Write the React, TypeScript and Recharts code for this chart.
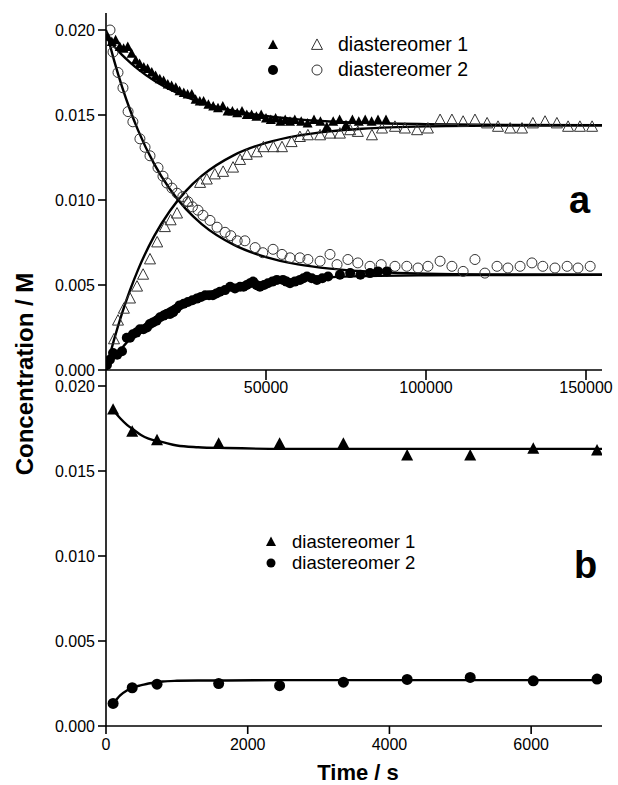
import { ComposedChart, Line, Scatter, XAxis, YAxis } from "recharts";

const font = "'Liberation Sans', Arial, sans-serif";
const ink = "#000";

// panel a: time in s, concentration in M
const d1FilledT = [500, 1800, 3000, 4300, 5500, 6800, 8000, 9300, 10500, 11800, 13000, 14300, 15500, 16800, 18000, 19300, 20500, 21800, 23000, 24300, 25500, 26800, 28000, 29300, 30500, 32000, 33500, 35000, 36500, 38000, 39500, 41000, 42500, 44000, 45500, 47000, 48500, 50000, 51500, 53000, 54500, 56000, 57500, 59000, 61000, 63000, 65000, 67000, 69000, 71000, 73000, 75000, 77000, 79000, 81000, 83000, 85000, 87500];
const d1FilledC = [0.0196, 0.0193, 0.0194, 0.019, 0.0189, 0.019, 0.0186, 0.0182, 0.018, 0.0178, 0.0177, 0.0175, 0.0173, 0.0171, 0.017, 0.0168, 0.0167, 0.0166, 0.0164, 0.0163, 0.0162, 0.0162, 0.0159, 0.0158, 0.0158, 0.0156, 0.0155, 0.0154, 0.0155, 0.0152, 0.0152, 0.0151, 0.0152, 0.015, 0.015, 0.0149, 0.015, 0.0148, 0.0147, 0.0148, 0.0146, 0.0147, 0.0146, 0.0147, 0.0146, 0.0145, 0.0147, 0.0146, 0.0143, 0.0146, 0.0147, 0.0144, 0.0147, 0.0146, 0.0147, 0.0146, 0.0147, 0.0147];

const d1OpenT = [2500, 3750, 5600, 7500, 9700, 11600, 13750, 16000, 18400, 20200, 22200, 25600, 29400, 31500, 34000, 36600, 39700, 41900, 44000, 47100, 49200, 52300, 55000, 58000, 60600, 63100, 66900, 70000, 73100, 76300, 78700, 83100, 86250, 90300, 93400, 97200, 100600, 104400, 108100, 111600, 115300, 119100, 122500, 126300, 130000, 133400, 137200, 140900, 144400, 148100, 151900];
const d1OpenC = [0.0018, 0.0029, 0.0036, 0.0042, 0.0049, 0.0056, 0.0065, 0.0075, 0.0084, 0.0088, 0.0092, 0.0099, 0.011, 0.0112, 0.0115, 0.01165, 0.0119, 0.01235, 0.01265, 0.0128, 0.0131, 0.0131, 0.0131, 0.0134, 0.0137, 0.0138, 0.0138, 0.0139, 0.0139, 0.0141, 0.014, 0.0138, 0.0142, 0.0143, 0.0142, 0.0141, 0.0142, 0.0147, 0.0147, 0.0146, 0.0147, 0.0145, 0.0143, 0.0142, 0.0142, 0.0145, 0.0146, 0.0145, 0.0143, 0.0143, 0.0143];

const d2OpenT = [1250, 2200, 3750, 5300, 6900, 8400, 10600, 12200, 13750, 16250, 17800, 19000, 20600, 22200, 24000, 25600, 27000, 28750, 30300, 32500, 34700, 37200, 39000, 41000, 43400, 46600, 49000, 52200, 55000, 57500, 60600, 63100, 66900, 70000, 72200, 75600, 78700, 82500, 86000, 90300, 94000, 97500, 100600, 104400, 108100, 111600, 115300, 118400, 122200, 125600, 129400, 133100, 136500, 140300, 144100, 147500, 151300];
const d2OpenC = [0.02, 0.0187, 0.0175, 0.0166, 0.0152, 0.0146, 0.0136, 0.0131, 0.0126, 0.0119, 0.0114, 0.011, 0.0107, 0.0104, 0.0102, 0.0099, 0.0096, 0.0094, 0.0091, 0.0088, 0.0084, 0.0081, 0.0079, 0.0076, 0.0076, 0.0072, 0.0069, 0.0071, 0.0068, 0.0066, 0.0066, 0.0065, 0.0064, 0.0068, 0.0062, 0.0065, 0.0063, 0.0061, 0.0062, 0.0061, 0.0061, 0.006, 0.0061, 0.0064, 0.0061, 0.0058, 0.0065, 0.0057, 0.0061, 0.006, 0.0061, 0.0063, 0.0061, 0.006, 0.0061, 0.006, 0.0061];

const d2FilledT = [300, 1200, 2200, 3500, 5000, 6500, 7500, 8400, 9500, 10600, 11700, 12800, 13700, 14700, 15800, 16900, 18000, 19000, 20000, 21000, 22000, 23000, 24300, 25600, 27000, 28400, 29700, 31000, 32200, 33400, 34500, 35600, 37200, 38800, 40300, 41900, 43000, 44000, 45000, 46000, 47000, 48100, 49400, 50600, 52000, 53400, 55300, 56400, 57500, 59000, 60600, 61700, 62800, 64300, 65900, 67600, 69400, 73100, 76300, 79500, 82500, 85000, 87800];
const d2FilledC = [0.0003, 0.0006, 0.001, 0.0009, 0.0011, 0.0019, 0.0019, 0.0021, 0.0022, 0.0024, 0.0024, 0.0025, 0.0027, 0.0028, 0.0029, 0.0031, 0.0032, 0.0033, 0.0033, 0.0034, 0.0036, 0.0038, 0.0039, 0.004, 0.0041, 0.0042, 0.0043, 0.0044, 0.0044, 0.0044, 0.0045, 0.0046, 0.0047, 0.0049, 0.0048, 0.0049, 0.0049, 0.005, 0.0051, 0.0052, 0.005, 0.0049, 0.005, 0.0051, 0.0052, 0.0053, 0.0053, 0.0052, 0.0051, 0.0052, 0.0053, 0.0054, 0.0055, 0.0054, 0.0053, 0.0054, 0.0055, 0.0056, 0.0057, 0.0056, 0.0057, 0.0058, 0.0058];

// fitted curves, panel a
const fitAT = [0, 2500, 5000, 7500, 10000, 15000, 20000, 25000, 30000, 40000, 50000, 60000, 70000, 80000, 100000, 125000, 155000];
const fitA1Filled = [0.0196, 0.01904, 0.01854, 0.0181, 0.0177, 0.01703, 0.0165, 0.01607, 0.01573, 0.01524, 0.01494, 0.01474, 0.01462, 0.01454, 0.01446, 0.01442, 0.0144];
const fitA1Open = [0, 0.00177, 0.00333, 0.00469, 0.00589, 0.00786, 0.00937, 0.01054, 0.01143, 0.01264, 0.01336, 0.01379, 0.01404, 0.01419, 0.01433, 0.01438, 0.0144];
const fitA2Open = [0.02, 0.01823, 0.01667, 0.01531, 0.01411, 0.01214, 0.01063, 0.00946, 0.00857, 0.00736, 0.00664, 0.00621, 0.00596, 0.00581, 0.00567, 0.00562, 0.0056];
const fitA2Filled = [0, 0.00069, 0.00129, 0.00183, 0.00229, 0.00306, 0.00365, 0.0041, 0.00445, 0.00492, 0.0052, 0.00536, 0.00546, 0.00552, 0.00557, 0.00559, 0.0056];

// panel b
const bT = [100, 370, 720, 1590, 2450, 3350, 4250, 5140, 6030, 6930];
const bD1 = [0.0186, 0.0173, 0.0168, 0.0166, 0.0166, 0.0166, 0.0159, 0.0159, 0.0163, 0.0162];
const bD2 = [0.00133, 0.00225, 0.00246, 0.0025, 0.00237, 0.00258, 0.00274, 0.00286, 0.00266, 0.00276];
const fitBT = [100, 200, 300, 400, 500, 600, 800, 1000, 1300, 1700, 2500, 4000, 7000];
const fitBD1 = [0.0186, 0.0181, 0.0177, 0.0174, 0.0171, 0.0169, 0.0167, 0.0165, 0.0164, 0.01635, 0.0163, 0.0163, 0.0163];
const fitBD2 = [0.0013, 0.0018, 0.0021, 0.0023, 0.0024, 0.0025, 0.00262, 0.00266, 0.00268, 0.00268, 0.0027, 0.0027, 0.0027];

const yTicks = [0, 0.005, 0.01, 0.015, 0.02];
const xTicksA = [50000, 100000, 150000];
const xTicksB = [0, 2000, 4000, 6000];

const zip = (t: number[], c: number[]) => t.map((v, i) => ({ t: v, c: c[i] }));

const tri = (cx: number, cy: number, s: number) =>
  `${cx},${cy - s * 0.55} ${cx - s / 2},${cy + s * 0.4} ${cx + s / 2},${cy + s * 0.4}`;

const FilledTri = (p: any) => <polygon points={tri(p.cx, p.cy, 10)} fill={ink} />;
const OpenTri = (p: any) => <polygon points={tri(p.cx, p.cy, 11)} fill="none" stroke="#333" strokeWidth={1} />;
const FilledDot = (p: any) => <circle cx={p.cx} cy={p.cy} r={5} fill={ink} />;
const OpenDot = (p: any) => <circle cx={p.cx} cy={p.cy} r={5} fill="none" stroke="#333" strokeWidth={1} />;
const BigTri = (p: any) => <polygon points={tri(p.cx, p.cy, 12)} fill={ink} />;
const BigDot = (p: any) => <circle cx={p.cx} cy={p.cy} r={5.5} fill={ink} />;

const tickStyle = { fontSize: 16, fill: ink, fontFamily: font };
const axisLine = { stroke: ink, strokeWidth: 1.6 };

function fit(data: { t: number; c: number }[], key: string) {
  return (
    <Line key={key} data={data} dataKey="c" type="monotone" stroke={ink} strokeWidth={2.4} dot={false} isAnimationActive={false} />
  );
}

export default function App() {
  return (
    <div style={{ position: "absolute", left: 0, top: 0, width: 618, height: 785, background: "#fff" }}>
      <div style={{ position: "absolute", left: 0, top: 0 }}>
        <ComposedChart width={618} height={785} margin={{ top: 13, right: 16, left: 46, bottom: 385 }}>
          <XAxis type="number" dataKey="t" domain={[0, 155000]} ticks={xTicksA} allowDataOverflow height={30}
            tick={tickStyle} tickSize={10} tickMargin={2} axisLine={axisLine} tickLine={axisLine} />
          <YAxis type="number" dataKey="c" domain={[0, 0.021]} ticks={yTicks} allowDataOverflow width={60}
            tick={tickStyle} tickSize={8} tickMargin={3} axisLine={axisLine} tickLine={axisLine}
            tickFormatter={(v) => Number(v).toFixed(3)} />
          {fit(zip(fitAT, fitA1Filled), "f1")}
          {fit(zip(fitAT, fitA1Open), "f2")}
          {fit(zip(fitAT, fitA2Open), "f3")}
          {fit(zip(fitAT, fitA2Filled), "f4")}
          <Scatter data={zip(d1OpenT, d1OpenC)} dataKey="c" shape={OpenTri} isAnimationActive={false} />
          <Scatter data={zip(d2OpenT, d2OpenC)} dataKey="c" shape={OpenDot} isAnimationActive={false} />
          <Scatter data={zip(d1FilledT, d1FilledC)} dataKey="c" shape={FilledTri} isAnimationActive={false} />
          <Scatter data={zip(d2FilledT, d2FilledC)} dataKey="c" shape={FilledDot} isAnimationActive={false} />
        </ComposedChart>
      </div>
      <div style={{ position: "absolute", left: 0, top: 0 }}>
        <ComposedChart width={618} height={785} margin={{ top: 369, right: 16, left: 46, bottom: 0 }}>
          <XAxis type="number" dataKey="t" domain={[0, 7000]} ticks={xTicksB} allowDataOverflow height={59}
            tick={tickStyle} tickSize={8} tickMargin={5} axisLine={axisLine} tickLine={axisLine} />
          <YAxis type="number" dataKey="c" domain={[0, 0.021]} ticks={yTicks} allowDataOverflow width={60}
            tick={tickStyle} tickSize={8} tickMargin={3} axisLine={axisLine} tickLine={axisLine}
            tickFormatter={(v) => Number(v).toFixed(3)} />
          {fit(zip(fitBT, fitBD1), "g1")}
          {fit(zip(fitBT, fitBD2), "g2")}
          <Scatter data={zip(bT, bD1)} dataKey="c" shape={BigTri} isAnimationActive={false} />
          <Scatter data={zip(bT, bD2)} dataKey="c" shape={BigDot} isAnimationActive={false} />
        </ComposedChart>
      </div>
      <svg width={618} height={785} style={{ position: "absolute", left: 0, top: 0, pointerEvents: "none" }}
        fontFamily={font}>
        <text x={24} y={374} transform="rotate(-90 24 374)" textAnchor="middle" dominantBaseline="central"
          fontSize={24} fontWeight="bold" fill={ink}>Concentration / M</text>
        <text x={358} y={780} textAnchor="middle" fontSize={22} fontWeight="bold" fill={ink}>Time / s</text>

        {/* legend a */}
        <polygon points={tri(273, 45, 10)} fill={ink} />
        <polygon points={tri(317, 45, 11)} fill="none" stroke="#333" />
        <text x={338} y={51} fontSize={19.5} fill={ink}>diastereomer 1</text>
        <circle cx={273} cy={70} r={5} fill={ink} />
        <circle cx={317} cy={70} r={5} fill="none" stroke="#333" />
        <text x={338} y={76} fontSize={19.5} fill={ink}>diastereomer 2</text>
        <text x={569} y={213} fontSize={38} fontWeight="bold" fill={ink}>a</text>

        {/* legend b */}
        <polygon points={tri(271, 542, 10)} fill={ink} />
        <text x={292} y={548} fontSize={18.5} fill={ink}>diastereomer 1</text>
        <circle cx={271} cy={563} r={4.5} fill={ink} />
        <text x={292} y={569} fontSize={18.5} fill={ink}>diastereomer 2</text>
        <text x={574} y={578} fontSize={38} fontWeight="bold" fill={ink}>b</text>
      </svg>
    </div>
  );
}
